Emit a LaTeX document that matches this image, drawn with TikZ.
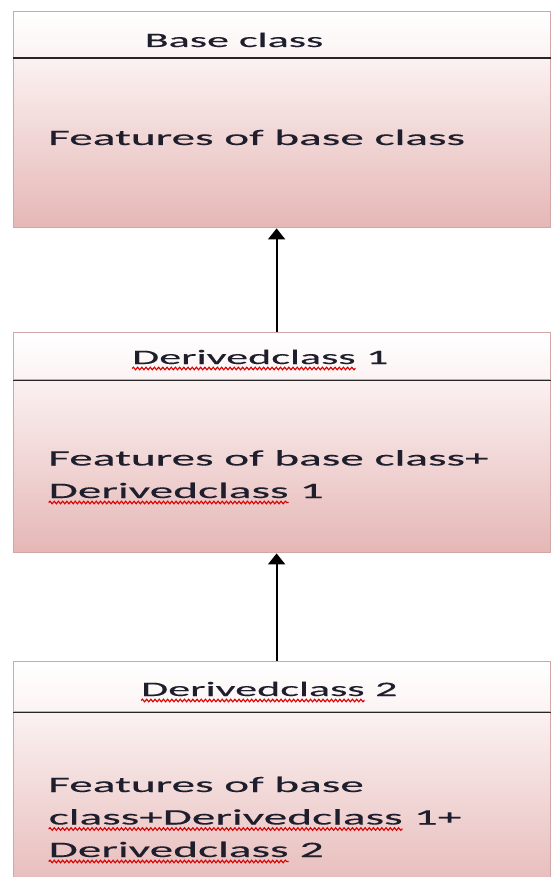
\documentclass[tikz,border=0pt]{standalone}
\usepackage{fontspec}
\setmainfont[FakeStretch=2.15,FakeBold=0.35]{Carlito}
\usetikzlibrary{arrows.meta,decorations.pathmorphing}

% red spelling squiggle under a word
\newcommand{\spellwave}[1]{\tikz[baseline=(sw.base),x=1cm,y=1cm]{%
    \node[inner sep=0pt,outer sep=0pt,anchor=base,draw=none,fill=none] (sw) {#1};
    \draw[red!85!black,line width=1.1pt,decorate,decoration={snake,amplitude=1.3pt,segment length=4.2pt}]
        ([yshift=-4.5pt]sw.base west) -- ([yshift=-4.5pt]sw.base east);}}

\definecolor{ink}{HTML}{1E1E2C}
\definecolor{boxline}{HTML}{D2A6A6}
\definecolor{headpink}{HTML}{FCF3F3}
\definecolor{bodytop}{HTML}{FBF1F1}
\definecolor{bodybot}{HTML}{E5B7B6}

\begin{document}
\begin{tikzpicture}[x=1pt,y=-1pt]
    \newcommand{\lft}{13}    % left edge of the boxes
    \newcommand{\wid}{537pt} % width of the boxes
    \newcommand{\shift}{-5.5pt} % arrows sit left of the middle

    % set the styles of the boxes and texts
    \tikzset{
        head/.style={
            draw=boxline, line width=1.2pt,
            top color=white, bottom color=headpink,
            anchor=north west, minimum width=\wid, inner sep=0pt
            },
        body/.style={
            draw=boxline, line width=1.2pt,
            top color=bodytop, bottom color=bodybot,
            anchor=north west, minimum width=\wid, inner sep=0pt
            },
        divider/.style={line width=1.4pt, black!85},
        title/.style={font=\fontsize{20.5}{25}\selectfont, text=ink, anchor=base, inner sep=0pt},
        feat/.style={font=\fontsize{22}{32.5}\selectfont, text=ink, align=left, anchor=base west, inner sep=0pt},
        inherit/.style={line width=2pt, -{Triangle[width=17pt,length=11pt]}}
    }

    \useasboundingbox (0,0) rectangle (552,877);

    % boxes
    \node[head, minimum height=46pt] (h1) at (\lft,11) {};
    \node[body, minimum height=169pt] (b1) at (h1.south west) {};
    \node[head, minimum height=47pt] (h2) at (\lft,332) {};
    \node[body, minimum height=172pt] (b2) at (h2.south west) {};
    \node[head, minimum height=50pt] (h3) at (\lft,661) {};
    \node[body, minimum height=190pt] (b3) at (h3.south west) {};

    \draw[divider] (h1.south west) -- (h1.south east);
    \draw[divider] (h2.south west) -- (h2.south east);
    \draw[divider] (h3.south west) -- (h3.south east);

    % texts (a node of several lines sits on its last line)
    \node[title] (t1) at (234,47) {Base class};
    \node[title] (t2) at (260,364) {\spellwave{Derivedclass} 1};
    \node[title] (t3) at (269,696) {\spellwave{Derivedclass} 2};

    \node[feat] (f1) at (48,145) {Features of base class};
    \node[feat] (f2) at (48,498) {Features of base class+\\ \spellwave{Derivedclass} 1};
    \node[feat] (f3) at (48,857) {Features of base\\ \spellwave{class+Derivedclass} 1+\\ \spellwave{Derivedclass} 2};

    % arrows
    \draw[inherit] ([xshift=\shift]h2.north) -- ([xshift=\shift]b1.south);
    \draw[inherit] ([xshift=\shift]h3.north) -- ([xshift=\shift]b2.south);
\end{tikzpicture}
\end{document}
